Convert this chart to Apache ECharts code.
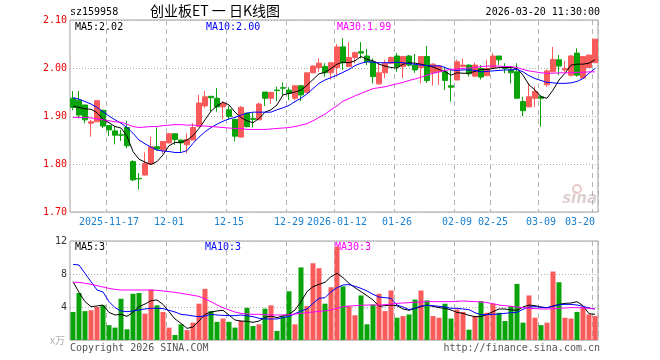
<!DOCTYPE html>
<html><head><meta charset="utf-8">
<script src="https://cdn.jsdelivr.net/npm/echarts@6/dist/echarts.min.js"></script>
<style>html,body{margin:0;padding:0;background:#fff;}#c{width:660px;height:360px;}</style>
</head><body><div id="c"></div>
<script>
const dates = ['2025-11-07','2025-11-10','2025-11-11','2025-11-12','2025-11-13','2025-11-14','2025-11-17','2025-11-18','2025-11-19','2025-11-20','2025-11-21','2025-11-24','2025-11-25','2025-11-26','2025-11-27','2025-11-28',
'2025-12-01','2025-12-02','2025-12-03','2025-12-04','2025-12-05','2025-12-08','2025-12-09','2025-12-10','2025-12-11','2025-12-12','2025-12-15','2025-12-16','2025-12-17','2025-12-18','2025-12-19','2025-12-22','2025-12-23','2025-12-24','2025-12-25','2025-12-26','2025-12-29','2025-12-30','2025-12-31',
'2026-01-05','2026-01-06','2026-01-07','2026-01-08','2026-01-09','2026-01-12','2026-01-13','2026-01-14','2026-01-15','2026-01-16','2026-01-19','2026-01-20','2026-01-21','2026-01-22','2026-01-23','2026-01-26','2026-01-27','2026-01-28','2026-01-29','2026-01-30',
'2026-02-02','2026-02-03','2026-02-04','2026-02-05','2026-02-06','2026-02-09','2026-02-10','2026-02-11','2026-02-12','2026-02-13','2026-02-24','2026-02-25','2026-02-26','2026-02-27',
'2026-03-02','2026-03-03','2026-03-04','2026-03-05','2026-03-06','2026-03-09','2026-03-10','2026-03-11','2026-03-12','2026-03-13','2026-03-16','2026-03-17','2026-03-18','2026-03-19','2026-03-20'];

const tickDates = ['2025-11-17','2025-12-01','2025-12-15','2025-12-29','2026-01-12','2026-01-26','2026-02-09','2026-02-25','2026-03-09','2026-03-20'];
const tickLabels = ['2025-11-17','12-01','12-15','12-29','2026-01-12','01-26','02-09','02-25','03-09','03-20'];

const opens  = [1.937,1.933,1.923,1.885,1.888,1.912,1.880,1.869,1.861,1.876,1.805,1.770,1.777,1.800,1.836,1.829,1.844,1.863,1.850,1.840,1.850,1.878,1.921,1.941,1.937,1.919,1.913,1.893,1.856,1.906,1.895,1.892,1.950,1.937,1.954,1.959,1.954,1.937,1.963,1.949,1.990,2.001,2.003,1.990,2.001,2.044,2.003,2.022,2.034,2.025,2.013,1.967,1.990,2.010,2.025,2.003,2.025,2.006,2.001,2.024,1.990,1.992,1.992,1.963,1.975,2.003,2.006,1.983,1.999,1.984,2.001,2.025,2.003,1.996,1.992,1.930,1.919,1.937,1.940,1.965,1.992,2.017,1.996,1.985,2.031,1.979,2.001,2.011];
const closes = [1.918,1.902,1.892,1.888,1.932,1.879,1.871,1.860,1.860,1.838,1.767,1.769,1.801,1.836,1.831,1.847,1.863,1.851,1.844,1.851,1.876,1.927,1.940,1.938,1.919,1.926,1.899,1.858,1.918,1.878,1.893,1.925,1.937,1.949,1.953,1.958,1.947,1.963,1.944,1.990,2.004,2.010,1.990,2.011,2.044,2.011,2.022,2.032,2.031,2.013,1.982,1.990,2.010,2.022,2.003,2.024,2.006,1.996,2.024,1.974,2.008,2.004,1.974,1.960,2.013,2.006,1.988,2.006,1.981,1.999,2.025,2.017,1.999,1.990,1.937,1.911,1.940,1.951,1.937,1.994,2.018,2.004,1.999,2.025,1.985,2.024,2.027,2.060];
const lows   = [1.912,1.895,1.885,1.857,1.888,1.875,1.858,1.841,1.848,1.833,1.764,1.747,1.776,1.798,1.828,1.822,1.843,1.840,1.826,1.822,1.850,1.878,1.917,1.909,1.909,1.893,1.892,1.847,1.855,1.876,1.876,1.892,1.921,1.926,1.931,1.944,1.933,1.933,1.931,1.947,1.989,1.992,1.982,1.976,1.982,1.996,2.003,2.010,2.020,2.006,1.968,1.965,1.979,2.010,1.992,1.979,2.003,1.990,1.968,1.969,1.963,1.965,1.954,1.930,1.975,2.001,1.982,1.982,1.976,1.984,2.001,2.006,1.989,1.968,1.937,1.900,1.919,1.919,1.878,1.961,1.992,1.985,1.992,1.982,1.982,1.979,2.001,2.011];
const highs  = [1.952,1.952,1.923,1.892,1.933,1.913,1.881,1.879,1.871,1.890,1.808,1.781,1.824,1.857,1.876,1.847,1.865,1.864,1.851,1.864,1.885,1.944,1.952,1.941,1.958,1.930,1.921,1.893,1.921,1.906,1.907,1.928,1.950,1.951,1.961,1.970,1.960,1.963,1.963,1.990,2.006,2.020,2.010,2.011,2.050,2.062,2.054,2.034,2.054,2.040,2.020,2.010,2.017,2.024,2.031,2.024,2.027,2.029,2.024,2.046,2.010,2.006,2.003,1.999,2.017,2.020,2.008,2.011,2.006,2.017,2.031,2.025,2.010,2.003,2.010,1.940,1.968,1.961,1.944,1.997,2.044,2.027,2.015,2.027,2.041,2.025,2.027,2.060];

const ma5  = [1.920,1.918,1.915,1.914,1.907,1.893,1.886,1.878,1.875,1.858,1.826,1.810,1.804,1.799,1.805,1.819,1.838,1.845,1.845,1.850,1.859,1.874,1.892,1.910,1.921,1.929,1.923,1.908,1.897,1.890,1.886,1.895,1.908,1.913,1.923,1.944,1.947,1.950,1.954,1.964,1.976,1.988,1.991,1.999,2.008,2.012,2.011,2.015,2.024,2.018,2.015,2.008,2.004,2.001,2.000,2.008,2.011,2.010,2.008,2.005,2.002,1.997,1.993,1.985,1.990,1.989,1.989,1.993,1.997,1.997,1.999,2.001,2.001,2.001,1.999,1.985,1.965,1.954,1.940,1.937,1.954,1.975,1.989,2.006,2.008,2.008,2.010,2.017];
const ma10 = [1.938,1.935,1.930,1.925,1.918,1.909,1.900,1.892,1.885,1.876,1.864,1.850,1.842,1.835,1.829,1.827,1.826,1.824,1.824,1.828,1.843,1.856,1.867,1.876,1.883,1.889,1.894,1.897,1.902,1.906,1.908,1.908,1.908,1.908,1.913,1.917,1.922,1.930,1.937,1.946,1.957,1.968,1.975,1.980,1.985,1.991,1.997,2.005,2.010,2.013,2.012,2.011,2.011,2.011,2.012,2.011,2.009,2.008,2.006,2.005,2.004,2.005,2.001,1.996,1.995,1.996,1.996,1.995,1.992,1.993,1.994,1.995,1.996,1.996,1.997,1.992,1.984,1.978,1.974,1.970,1.969,1.968,1.968,1.969,1.972,1.978,1.989,1.999];
const ma30 = [1.897,1.897,1.897,1.896,1.894,1.892,1.890,1.888,1.887,1.883,1.878,1.876,1.877,1.878,1.878,1.880,1.881,1.882,1.882,1.881,1.881,1.880,1.879,1.878,1.877,1.876,1.875,1.874,1.874,1.872,1.872,1.872,1.872,1.873,1.874,1.875,1.876,1.878,1.881,1.884,1.890,1.897,1.904,1.913,1.921,1.931,1.936,1.942,1.947,1.952,1.957,1.959,1.961,1.964,1.967,1.970,1.974,1.977,1.981,1.985,1.989,1.992,1.995,1.997,1.998,1.999,2.000,2.001,2.003,2.004,2.004,2.004,2.003,2.003,2.001,1.997,1.994,1.992,1.990,1.989,1.989,1.990,1.990,1.990,1.991,1.991,1.992,1.992];

const volumes = [3.4,5.7,3.5,3.6,4.0,4.2,1.8,1.5,5.0,1.3,5.6,5.7,3.2,6.1,4.2,3.4,1.5,0.6,1.9,1.2,2.1,4.4,6.2,3.5,2.2,2.6,2.2,1.5,2.3,3.9,1.7,1.9,3.8,4.2,1.1,2.9,5.9,1.9,8.8,4.1,9.3,8.7,4.4,6.4,11.3,
6.5,4.1,3.0,5.4,1.9,4.3,5.6,3.5,6.0,2.7,2.9,3.1,4.9,6.0,4.8,2.9,2.7,4.4,2.6,3.7,3.4,1.25,2.9,4.7,3.3,4.4,3.3,2.3,4.1,6.8,2.1,5.4,2.7,1.8,2.1,8.3,7.0,2.7,2.6,3.4,4.0,3.1,2.9];
const vma5  = [7.07,5.78,4.65,4.04,4.12,4.24,3.35,3.03,3.11,2.87,3.35,4.04,4.36,4.77,4.85,4.32,3.43,2.55,2.02,1.41,1.58,2.30,3.11,3.39,3.52,3.60,3.03,2.42,2.30,2.26,2.14,2.30,2.75,2.91,2.71,2.95,3.11,3.64,4.65,5.86,6.46,6.75,6.99,7.68,8.08,
7.56,6.87,6.34,5.86,5.37,4.85,4.08,4.16,4.24,4.16,3.76,3.60,3.84,4.04,4.24,4.08,3.92,3.84,3.64,3.35,3.23,2.99,2.83,2.83,3.11,3.43,3.76,3.76,3.64,3.60,4.00,4.24,4.16,4.00,3.92,4.12,4.32,4.44,4.48,4.65,4.16,3.19,3.11];
const vma10 = [9.17,9.09,8.08,7.07,6.06,5.82,4.65,3.92,3.52,3.43,3.52,3.64,3.76,3.84,3.84,3.80,3.60,3.39,3.11,3.03,2.91,2.83,2.91,3.11,3.03,2.99,2.95,2.95,3.03,2.95,2.83,2.63,2.55,2.55,2.55,2.71,2.87,3.19,3.52,3.76,4.44,5.05,5.13,5.86,6.34,
6.67,6.71,6.51,6.26,5.94,5.54,5.21,5.13,5.05,4.24,4.00,3.68,3.84,4.12,4.20,4.16,4.08,4.00,3.84,3.84,3.76,3.68,3.31,3.07,3.07,3.11,3.15,3.23,3.31,3.35,3.72,4.00,4.04,3.96,3.92,4.08,4.28,4.32,4.32,4.24,4.08,3.88,3.76];
const vma30 = [6.99,6.99,6.87,6.75,6.59,6.42,6.26,6.14,6.06,6.06,6.06,6.06,6.06,6.06,6.02,5.94,5.86,5.78,5.66,5.54,5.41,5.29,4.97,4.65,4.24,3.92,3.64,3.39,3.23,3.15,3.11,3.11,3.07,3.03,3.03,3.03,3.07,3.15,3.23,3.31,3.39,3.47,3.52,3.64,3.84,
4.04,4.12,4.16,4.20,4.24,4.24,4.24,4.28,4.36,4.44,4.48,4.53,4.57,4.61,4.65,4.65,4.65,4.65,4.65,4.69,4.73,4.69,4.65,4.61,4.53,4.40,4.24,4.16,4.08,4.00,3.92,3.84,3.80,3.76,3.76,3.80,3.84,3.88,3.92,3.92,3.88,3.84,3.76];

const UP = '#f95b5b', DOWN = '#0aa30a';
const MONO = '"DejaVu Sans Mono", monospace';

const kData = opens.map((o, i) => [o, closes[i], lows[i], highs[i]]);
const volData = volumes.map((v, i) => ({ value: v, itemStyle: { color: closes[i] >= opens[i] ? UP : DOWN } }));

const isTick = (idx, val) => tickDates.indexOf(val) >= 0;
const splitDash = { show: true, interval: isTick, lineStyle: { color: '#b4b4b4', type: [5, 4], width: 1 } };

const chart = echarts.init(document.getElementById('c'), null, { renderer: 'canvas' });
const maLine = (name, data, color, xi, yi) => ({
  name, type: 'line', data, xAxisIndex: xi, yAxisIndex: yi, showSymbol: false, symbol: 'none',
  lineStyle: { color, width: 1 }, itemStyle: { color }, silent: true, z: 5
});

chart.setOption({
  animation: false,
  backgroundColor: '#fff',
  grid: [
    { left: 70, right: 62, top: 20, height: 192, show: true, borderColor: '#a0a0a0', borderWidth: 1 },
    { left: 70, right: 62, top: 241, height: 99, show: true, borderColor: '#a0a0a0', borderWidth: 1 }
  ],
  xAxis: [
    { type: 'category', gridIndex: 0, data: dates, boundaryGap: true,
      axisLine: { show: false }, axisTick: { show: false },
      axisLabel: { show: true, interval: isTick, margin: 5, color: '#1a80d0', fontFamily: MONO, fontSize: 10,
        alignMaxLabel: 'right',
        formatter: (v) => tickLabels[tickDates.indexOf(v)] },
      splitLine: splitDash },
    { type: 'category', gridIndex: 1, data: dates, boundaryGap: true,
      axisLine: { show: false }, axisTick: { show: false }, axisLabel: { show: false },
      splitLine: splitDash }
  ],
  yAxis: [
    { type: 'value', gridIndex: 0, min: 1.7, max: 2.1, interval: 0.1, scale: true,
      axisLine: { show: false }, axisTick: { show: false },
      axisLabel: { color: '#f00000', fontFamily: MONO, fontSize: 10, margin: 3, formatter: (v) => v.toFixed(2) },
      splitLine: { show: true, lineStyle: { color: '#b0b0b0', type: [1, 2] } } },
    { type: 'value', gridIndex: 1, min: 0, max: 12, interval: 4,
      axisLine: { show: false }, axisTick: { show: false },
      axisLabel: { color: '#333', fontFamily: MONO, fontSize: 10, margin: 3, formatter: (v) => v === 0 ? '' : String(v) },
      splitLine: { show: true, lineStyle: { color: '#b0b0b0', type: [1, 2] } } }
  ],
  series: [
    { name: 'K', type: 'candlestick', xAxisIndex: 0, yAxisIndex: 0, data: kData, barWidth: 5,
      itemStyle: { color: UP, color0: DOWN, borderColor: UP, borderColor0: DOWN, borderWidth: 1 }, silent: true },
    maLine('MA5', ma5, '#000000', 0, 0),
    maLine('MA10', ma10, '#0000ff', 0, 0),
    maLine('MA30', ma30, '#ff00ff', 0, 0),
    { name: 'VOL', type: 'bar', xAxisIndex: 1, yAxisIndex: 1, data: volData, barWidth: 5, silent: true },
    maLine('VMA5', vma5, '#000000', 1, 1),
    maLine('VMA10', vma10, '#0000ff', 1, 1),
    maLine('VMA30', vma30, '#ff00ff', 1, 1)
  ],
  graphic: [
    { type: 'text', left: 70, top: 7, style: { text: 'sz159958', font: '10px ' + MONO, fill: '#000' } },
    { type: 'text', left: 150, top: 4, style: { text: '创业板ET 一 日K线图', font: '14px "Noto Sans CJK SC"', fill: '#000' } },
    { type: 'text', right: 60, top: 7, style: { text: '2026-03-20 11:30:00', font: '10px ' + MONO, fill: '#000' } },
    { type: 'text', left: 75, top: 22, style: { text: 'MA5:2.02', font: '10px ' + MONO, fill: '#000' } },
    { type: 'text', left: 206, top: 22, style: { text: 'MA10:2.00', font: '10px ' + MONO, fill: '#0000ff' } },
    { type: 'text', left: 337, top: 22, style: { text: 'MA30:1.99', font: '10px ' + MONO, fill: '#ff00ff' } },
    { type: 'text', left: 75, top: 242, style: { text: 'MA5:3', font: '10px ' + MONO, fill: '#000' } },
    { type: 'text', left: 205, top: 242, style: { text: 'MA10:3', font: '10px ' + MONO, fill: '#0000ff' } },
    { type: 'text', left: 335, top: 242, style: { text: 'MA30:3', font: '10px ' + MONO, fill: '#ff00ff' } },
    { type: 'text', left: 50, top: 335, style: { text: 'x万', font: '10px "Noto Sans CJK SC"', fill: '#b0b0b0' } },
    { type: 'text', left: 70, top: 343, style: { text: 'Copyright 2026 SINA.COM', font: '10px ' + MONO, fill: '#555' } },
    { type: 'text', right: 60, top: 343, style: { text: 'http://finance.sina.com.cn', font: '10px ' + MONO, fill: '#555' } },
    { type: 'text', right: 63, top: 192, style: { text: 'sina', font: 'italic bold 15px "DejaVu Sans"', fill: '#ddd0d0' } },
    { type: 'circle', shape: { cx: 577, cy: 189, r: 4 }, style: { fill: 'none', stroke: '#e8c8c8', lineWidth: 2 } }
  ]
});
</script></body></html>
